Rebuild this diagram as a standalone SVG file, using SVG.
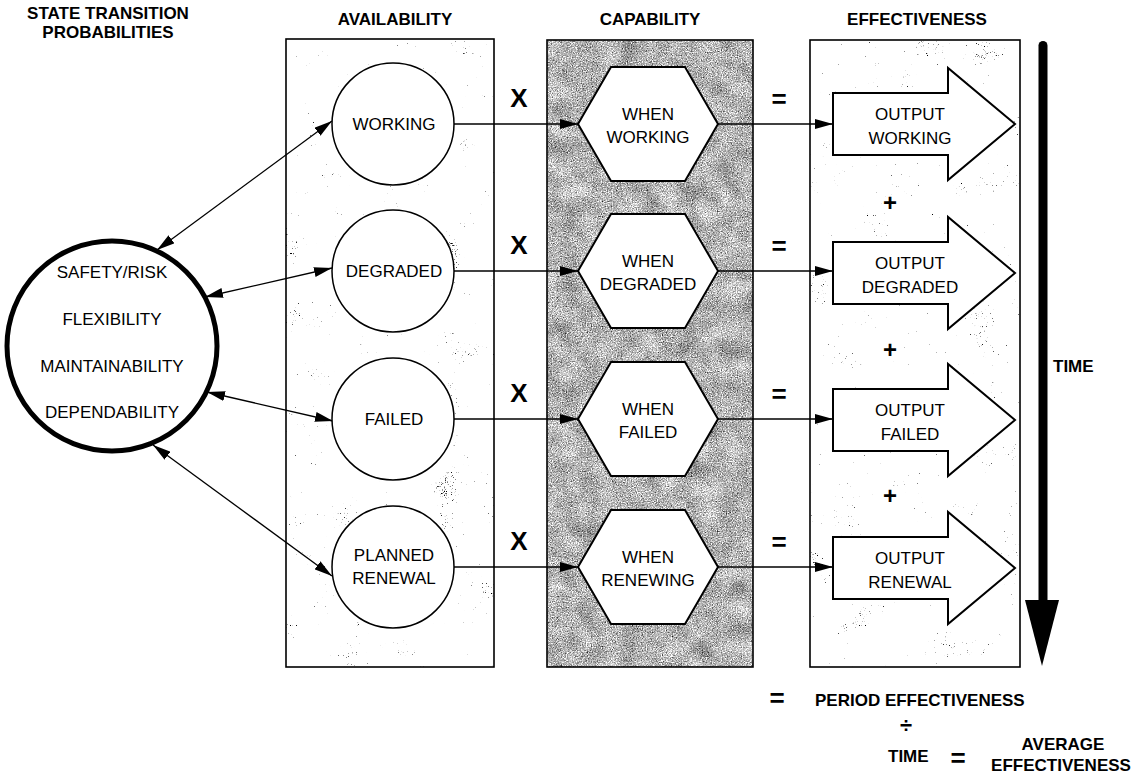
<svg xmlns="http://www.w3.org/2000/svg" width="1140" height="778" viewBox="0 0 1140 778">
  <defs>
    <style>
      text { font-family: "Liberation Sans", Arial, sans-serif; fill: #000; }
      .hdr { font-size: 17px; font-weight: bold; text-anchor: middle; }
      .lbl { font-size: 17px; text-anchor: middle; }
      .op { font-size: 26px; font-weight: bold; text-anchor: middle; }
      .eq { font-size: 26px; font-weight: bold; text-anchor: middle; }
      .plus { font-size: 24px; font-weight: bold; text-anchor: middle; }
      .div { font-size: 22px; font-weight: bold; text-anchor: middle; }
      .frame { fill: none; stroke: #000; stroke-width: 1.6; }
      .state { fill: #fff; stroke: #000; stroke-width: 1.5; }
      .hex { fill: #fff; stroke: #000; stroke-width: 2; }
      .out { fill: #fff; stroke: #000; stroke-width: 2; }
      .link { fill: none; stroke: #000; stroke-width: 1.3; }
    </style>
    <!-- mottled grey grain for the capability column -->
    <filter id="grain" x="0" y="0" width="100%" height="100%" color-interpolation-filters="sRGB">
      <feTurbulence type="fractalNoise" baseFrequency="0.8" numOctaves="2" seed="7" result="hi"/>
      <feColorMatrix in="hi" type="matrix" values="0.33 0.33 0.33 0 0  0.33 0.33 0.33 0 0  0.33 0.33 0.33 0 0  0 0 0 0 1" result="hiG"/>
      <feTurbulence type="fractalNoise" baseFrequency="0.05" numOctaves="2" seed="4" result="lo"/>
      <feColorMatrix in="lo" type="matrix" values="0.33 0.33 0.33 0 0  0.33 0.33 0.33 0 0  0.33 0.33 0.33 0 0  0 0 0 0 1" result="loG"/>
      <feComposite in="hiG" in2="loG" operator="arithmetic" k2="1" k3="0.3" k4="-0.15" result="n"/>
      <feComponentTransfer in="n" result="c">
        <feFuncR type="linear" slope="2.2" intercept="-0.38"/>
        <feFuncG type="linear" slope="2.2" intercept="-0.38"/>
        <feFuncB type="linear" slope="2.2" intercept="-0.38"/>
        <feFuncA type="linear" slope="0" intercept="1"/>
      </feComponentTransfer>
      <feComposite in="c" in2="SourceGraphic" operator="in"/>
    </filter>
    <!-- sparse clustered speckles for the light columns -->
    <filter id="speckle" x="0" y="0" width="100%" height="100%" color-interpolation-filters="sRGB">
      <feTurbulence type="fractalNoise" baseFrequency="0.9" numOctaves="2" seed="2" result="hi"/>
      <feColorMatrix in="hi" type="matrix" values="0.33 0.33 0.33 0 0  0.33 0.33 0.33 0 0  0.33 0.33 0.33 0 0  0 0 0 0 1" result="hiG"/>
      <feTurbulence type="fractalNoise" baseFrequency="0.03" numOctaves="2" seed="9" result="lo"/>
      <feColorMatrix in="lo" type="matrix" values="0.33 0.33 0.33 0 0  0.33 0.33 0.33 0 0  0.33 0.33 0.33 0 0  0 0 0 0 1" result="loG"/>
      <feComposite in="hiG" in2="loG" operator="arithmetic" k2="1" k3="0.6" k4="-0.3" result="n"/>
      <feComponentTransfer in="n" result="c">
        <feFuncR type="linear" slope="8" intercept="-1.3"/>
        <feFuncG type="linear" slope="8" intercept="-1.3"/>
        <feFuncB type="linear" slope="8" intercept="-1.3"/>
        <feFuncA type="linear" slope="0" intercept="1"/>
      </feComponentTransfer>
      <feComposite in="c" in2="SourceGraphic" operator="in"/>
    </filter>
    <marker id="head" viewBox="0 0 18 10" refX="18" refY="5" markerWidth="18" markerHeight="10" markerUnits="userSpaceOnUse" orient="auto-start-reverse">
      <path d="M0,0 L18,5 L0,10 z" fill="#000"/>
    </marker>
  </defs>

  <rect width="1140" height="778" fill="#fff"/>

  <!-- column headings -->
  <g id="headings">
    <text class="hdr" x="108" y="19">STATE TRANSITION</text>
    <text class="hdr" x="108" y="38">PROBABILITIES</text>
    <text class="hdr" x="395" y="25">AVAILABILITY</text>
    <text class="hdr" x="650" y="25">CAPABILITY</text>
    <text class="hdr" x="917" y="25">EFFECTIVENESS</text>
  </g>

  <!-- column panels -->
  <g id="panel-availability">
    <rect x="286" y="39" width="208" height="628" fill="#fff" filter="url(#speckle)"/>
    <rect class="frame" x="286" y="39" width="208" height="628"/>
  </g>
  <g id="panel-capability">
    <rect x="547" y="40" width="206" height="627" fill="#fff" filter="url(#grain)"/>
    <rect class="frame" x="547" y="40" width="206" height="627"/>
  </g>
  <g id="panel-effectiveness">
    <rect x="810" y="40" width="210" height="627" fill="#fff" filter="url(#speckle)"/>
    <rect class="frame" x="810" y="40" width="210" height="627"/>
  </g>

  <!-- connectors -->
  <g id="connectors">
    <line class="link" x1="157" y1="250" x2="332" y2="121" marker-start="url(#head)" marker-end="url(#head)"/>
    <line class="link" x1="205" y1="297" x2="332" y2="268" marker-start="url(#head)" marker-end="url(#head)"/>
    <line class="link" x1="207" y1="392" x2="333" y2="421" marker-start="url(#head)" marker-end="url(#head)"/>
    <line class="link" x1="153" y1="445" x2="332" y2="576" marker-start="url(#head)" marker-end="url(#head)"/>

    <line class="link" x1="454" y1="124" x2="578" y2="124" marker-end="url(#head)"/>
    <line class="link" x1="454" y1="271" x2="578" y2="271" marker-end="url(#head)"/>
    <line class="link" x1="454" y1="419" x2="578" y2="419" marker-end="url(#head)"/>
    <line class="link" x1="454" y1="567" x2="578" y2="567" marker-end="url(#head)"/>

    <line class="link" x1="718" y1="124" x2="833" y2="124" marker-end="url(#head)"/>
    <line class="link" x1="718" y1="271" x2="833" y2="271" marker-end="url(#head)"/>
    <line class="link" x1="718" y1="419" x2="833" y2="419" marker-end="url(#head)"/>
    <line class="link" x1="718" y1="567" x2="833" y2="567" marker-end="url(#head)"/>
  </g>

  <!-- attribute circle -->
  <g id="attributes">
    <circle cx="112" cy="346" r="105" fill="#fff" stroke="#000" stroke-width="5"/>
    <text class="lbl" x="112" y="278">SAFETY/RISK</text>
    <text class="lbl" x="112" y="325">FLEXIBILITY</text>
    <text class="lbl" x="112" y="372">MAINTAINABILITY</text>
    <text class="lbl" x="112" y="418">DEPENDABILITY</text>
  </g>

  <!-- availability states -->
  <g id="state-working">
    <circle class="state" cx="393" cy="124" r="61"/>
    <text class="lbl" x="394" y="130">WORKING</text>
  </g>
  <g id="state-degraded">
    <circle class="state" cx="393" cy="271" r="61"/>
    <text class="lbl" x="394" y="277">DEGRADED</text>
  </g>
  <g id="state-failed">
    <circle class="state" cx="393" cy="419" r="61"/>
    <text class="lbl" x="394" y="425">FAILED</text>
  </g>
  <g id="state-renewal">
    <circle class="state" cx="393" cy="567" r="61"/>
    <text class="lbl" x="394" y="561">PLANNED</text>
    <text class="lbl" x="394" y="584">RENEWAL</text>
  </g>

  <!-- capability per state -->
  <g id="cap-working">
    <polygon class="hex" points="578,124 611,67 685,67 718,124 685,181 611,181"/>
    <text class="lbl" x="648" y="120">WHEN</text>
    <text class="lbl" x="648" y="143">WORKING</text>
  </g>
  <g id="cap-degraded">
    <polygon class="hex" points="578,271 611,214 685,214 718,271 685,328 611,328"/>
    <text class="lbl" x="648" y="267">WHEN</text>
    <text class="lbl" x="648" y="290">DEGRADED</text>
  </g>
  <g id="cap-failed">
    <polygon class="hex" points="578,419 611,362 685,362 718,419 685,476 611,476"/>
    <text class="lbl" x="648" y="415">WHEN</text>
    <text class="lbl" x="648" y="438">FAILED</text>
  </g>
  <g id="cap-renewing">
    <polygon class="hex" points="578,567 611,510 685,510 718,567 685,624 611,624"/>
    <text class="lbl" x="648" y="563">WHEN</text>
    <text class="lbl" x="648" y="586">RENEWING</text>
  </g>

  <!-- output per state -->
  <g id="out-working">
    <polygon class="out" points="833,93 948,93 948,68 1015,124 948,180 948,155 833,155"/>
    <text class="lbl" x="910" y="120">OUTPUT</text>
    <text class="lbl" x="910" y="144">WORKING</text>
  </g>
  <g id="out-degraded">
    <polygon class="out" points="833,242 948,242 948,217 1015,273 948,329 948,304 833,304"/>
    <text class="lbl" x="910" y="269">OUTPUT</text>
    <text class="lbl" x="910" y="293">DEGRADED</text>
  </g>
  <g id="out-failed">
    <polygon class="out" points="833,389 948,389 948,364 1015,420 948,476 948,451 833,451"/>
    <text class="lbl" x="910" y="416">OUTPUT</text>
    <text class="lbl" x="910" y="440">FAILED</text>
  </g>
  <g id="out-renewal">
    <polygon class="out" points="833,537 948,537 948,512 1015,568 948,624 948,599 833,599"/>
    <text class="lbl" x="910" y="564">OUTPUT</text>
    <text class="lbl" x="910" y="588">RENEWAL</text>
  </g>

  <!-- operators between columns -->
  <g id="operators">
    <text class="op" x="519" y="107">X</text>
    <text class="op" x="519" y="254">X</text>
    <text class="op" x="519" y="402">X</text>
    <text class="op" x="519" y="550">X</text>
    <text class="eq" x="779" y="108">=</text>
    <text class="eq" x="779" y="255">=</text>
    <text class="eq" x="779" y="403">=</text>
    <text class="eq" x="779" y="551">=</text>
    <text class="plus" x="890" y="211">+</text>
    <text class="plus" x="890" y="358">+</text>
    <text class="plus" x="890" y="504">+</text>
  </g>

  <!-- time axis -->
  <g id="time-axis">
    <rect x="1038.5" y="41" width="9" height="566" rx="4.5" fill="#000"/>
    <polygon points="1025,600 1059,600 1042,666" fill="#000"/>
    <text class="hdr" x="1053" y="372" style="text-anchor:start">TIME</text>
  </g>

  <!-- summary -->
  <g id="summary">
    <text class="eq" x="777" y="707">=</text>
    <text class="hdr" x="815" y="706" style="text-anchor:start">PERIOD EFFECTIVENESS</text>
    <text class="div" x="906" y="733">÷</text>
    <text class="hdr" x="888" y="762" style="text-anchor:start">TIME</text>
    <text class="eq" x="958" y="767">=</text>
    <text class="hdr" x="1063" y="750">AVERAGE</text>
    <text class="hdr" x="1061" y="771">EFFECTIVENESS</text>
  </g>
</svg>
